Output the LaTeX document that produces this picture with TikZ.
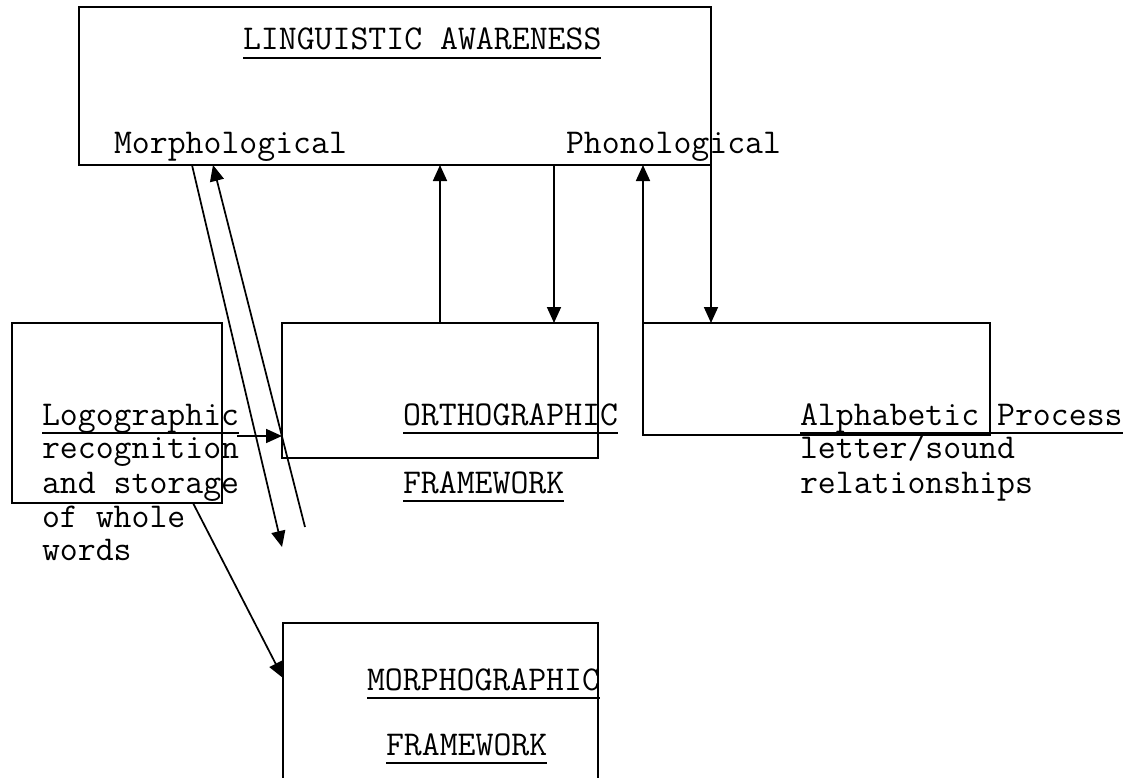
\documentclass[tikz,border=0pt]{standalone}
\usepackage{fontspec}
\usetikzlibrary{arrows.meta,calc}
\begin{document}
\begin{tikzpicture}[x=0.75pt,y=-0.75pt,
  box/.style={draw=black,line width=1.3pt,inner sep=0pt,outer sep=0pt},
  txt/.style={anchor=base west,inner sep=0pt,outer sep=0pt,font={\ttfamily\fontsize{26.1}{28}\selectfont}},
  ul/.style={line width=1.4pt},
  arr/.style={line width=1.3pt,-{Triangle[length=12pt,width=10.5pt]}}]
\useasboundingbox (0,0) rectangle (1136,778);
\fill[white] (0,0) rectangle (1136,778);
% boxes
\node[box,minimum width=474pt,minimum height=118.5pt] (top) at (395,86) {};
\node[box,minimum width=157.5pt,minimum height=135pt] (logo) at (117,413) {};
\node[box,minimum width=237pt,minimum height=101.25pt] (ortho) at (440,390.5) {};
\node[box,minimum width=260.25pt,minimum height=84pt] (alpha) at (816.5,379) {};
\node[box,minimum width=236.25pt,minimum height=150pt] (morph) at (440.5,723) {};
% texts
\node[txt] (la) at (243,50) {LINGUISTIC AWARENESS};
\node[txt] (mo) at (114,153) {Morphological};
\node[txt] (ph) at (566,153) {Phonological};
\node[txt] (lg) at (42,425) {Logographic};
\node[txt] (lg2) at (42,458) {recognition};
\node[txt] (lg3) at (42,493) {and storage};
\node[txt] (lg4) at (42,527) {of whole};
\node[txt] (lg5) at (42,560) {words};
\node[txt] (or) at (403,425) {ORTHOGRAPHIC};
\node[txt] (of) at (403,493) {FRAMEWORK};
\node[txt] (al) at (800,425) {Alphabetic Process};
\node[txt] (al2) at (800,458) {letter/sound};
\node[txt] (al3) at (800,493) {relationships};
\node[txt] (mg) at (367,690) {MORPHOGRAPHIC};
\node[txt] (mf) at (386,755) {FRAMEWORK};
% underlines
\foreach \n in {la,lg,or,of,al,mg,mf}{
  \draw[ul] ([yshift=-6pt]\n.base west) -- ([yshift=-6pt]\n.base east);
}
% connector end points
\coordinate (m1) at (192,165);
\coordinate (m1e) at (282,547);
\coordinate (m2) at (305,527);
\coordinate (m2e) at (213,165);
\coordinate (p5) at (554,165);
\coordinate (p6) at (643,165);
\coordinate (lgs) at (193,503);
\coordinate (lga) at (237,436);
% arrows
\draw[arr] (m1) -- (m1e);
\draw[arr] (m2) -- (m2e);
\draw[arr] (lga) -- (lga -| ortho.west);
\draw[arr] (ortho.north) -- (ortho.north |- top.south);
\draw[arr] (p5) -- (p5 |- ortho.north);
\draw[arr] (alpha.north west) -- (p6);
\draw[arr] (top.south east) -- (top.south east |- alpha.north);
\draw[arr] (lgs) -- (morph.west |- 0,678);
\end{tikzpicture}
\end{document}
